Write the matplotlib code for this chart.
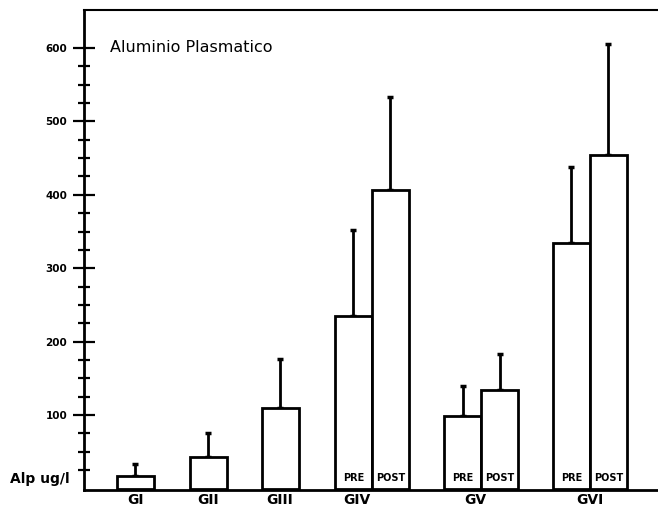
import matplotlib
matplotlib.use("Agg")
import matplotlib.pyplot as plt
import matplotlib.transforms as mtransforms

# Data
groups = ["GI", "GII", "GIII", "GIV", "GV", "GVI"]
bar_labels = ["", "", "", "PRE", "POST", "PRE", "POST", "PRE", "POST"]
means = [17, 43, 109, 235, 407, 99, 134, 335, 454]
upper = [34, 76, 176, 352, 533, 140, 183, 438, 606]

# Layout (positions in bar-width units)
bar_pos = [1.39, 3.36, 5.30, 7.28, 8.28, 10.24, 11.24, 13.17, 14.17]
group_label_pos = [1.39, 3.36, 5.30, 7.38, 10.57, 13.68]

fig = plt.figure(figsize=(6.58, 5.13), dpi=100)
ax = fig.add_axes([84 / 658, 23 / 513, 574 / 658, 479.5 / 513])
ax.set_xlim(0, 574 / 37)
ax.set_ylim(-2, 651)

lw = 2.0
ax.bar(bar_pos, means, width=1.0, facecolor="white", edgecolor="black",
       linewidth=lw, zorder=2)
for x, m, u in zip(bar_pos, means, upper):
    ax.errorbar([x], [m], yerr=[[0], [u - m]], fmt="none", ecolor="black",
                elinewidth=lw, capsize=2.5, capthick=2.5, zorder=1)

for x, t in zip(bar_pos, bar_labels):
    if t:
        ax.text(x, 8, t, ha="center", va="bottom", fontsize=7,
                fontweight="bold", family="DejaVu Sans")

ax.spines["right"].set_visible(False)
ax.spines["left"].set_linewidth(2)
ax.spines["bottom"].set_linewidth(2)
ax.spines["top"].set_linewidth(1.5)

ax.set_xticks([])
ax.set_yticks([100, 200, 300, 400, 500, 600])
ax.set_yticklabels(["100", "200", "300", "400", "500", "600"],
                   fontsize=7.5, fontweight="bold")
ax.set_yticks([v for v in range(25, 600, 25) if v % 100 != 0], minor=True)
ax.tick_params(axis="y", which="major", direction="inout", length=16,
               width=1.6, pad=4)
ax.tick_params(axis="y", which="minor", direction="inout", length=9,
               width=1.6)

trans = mtransforms.blended_transform_factory(ax.transData, fig.transFigure)
for x, g in zip(group_label_pos, groups):
    ax.text(x, 6 / 513, g, transform=trans, ha="center", va="bottom",
            fontsize=10, fontweight="bold")

ax.text(0.7, 600, "Aluminio Plasmatico", ha="left", va="center",
        fontsize=11.5)
fig.text(10 / 658, 1 - 479 / 513, "Alp ug/l", ha="left", va="center",
         fontsize=10, fontweight="bold")

fig.savefig("out.png", dpi=100)
